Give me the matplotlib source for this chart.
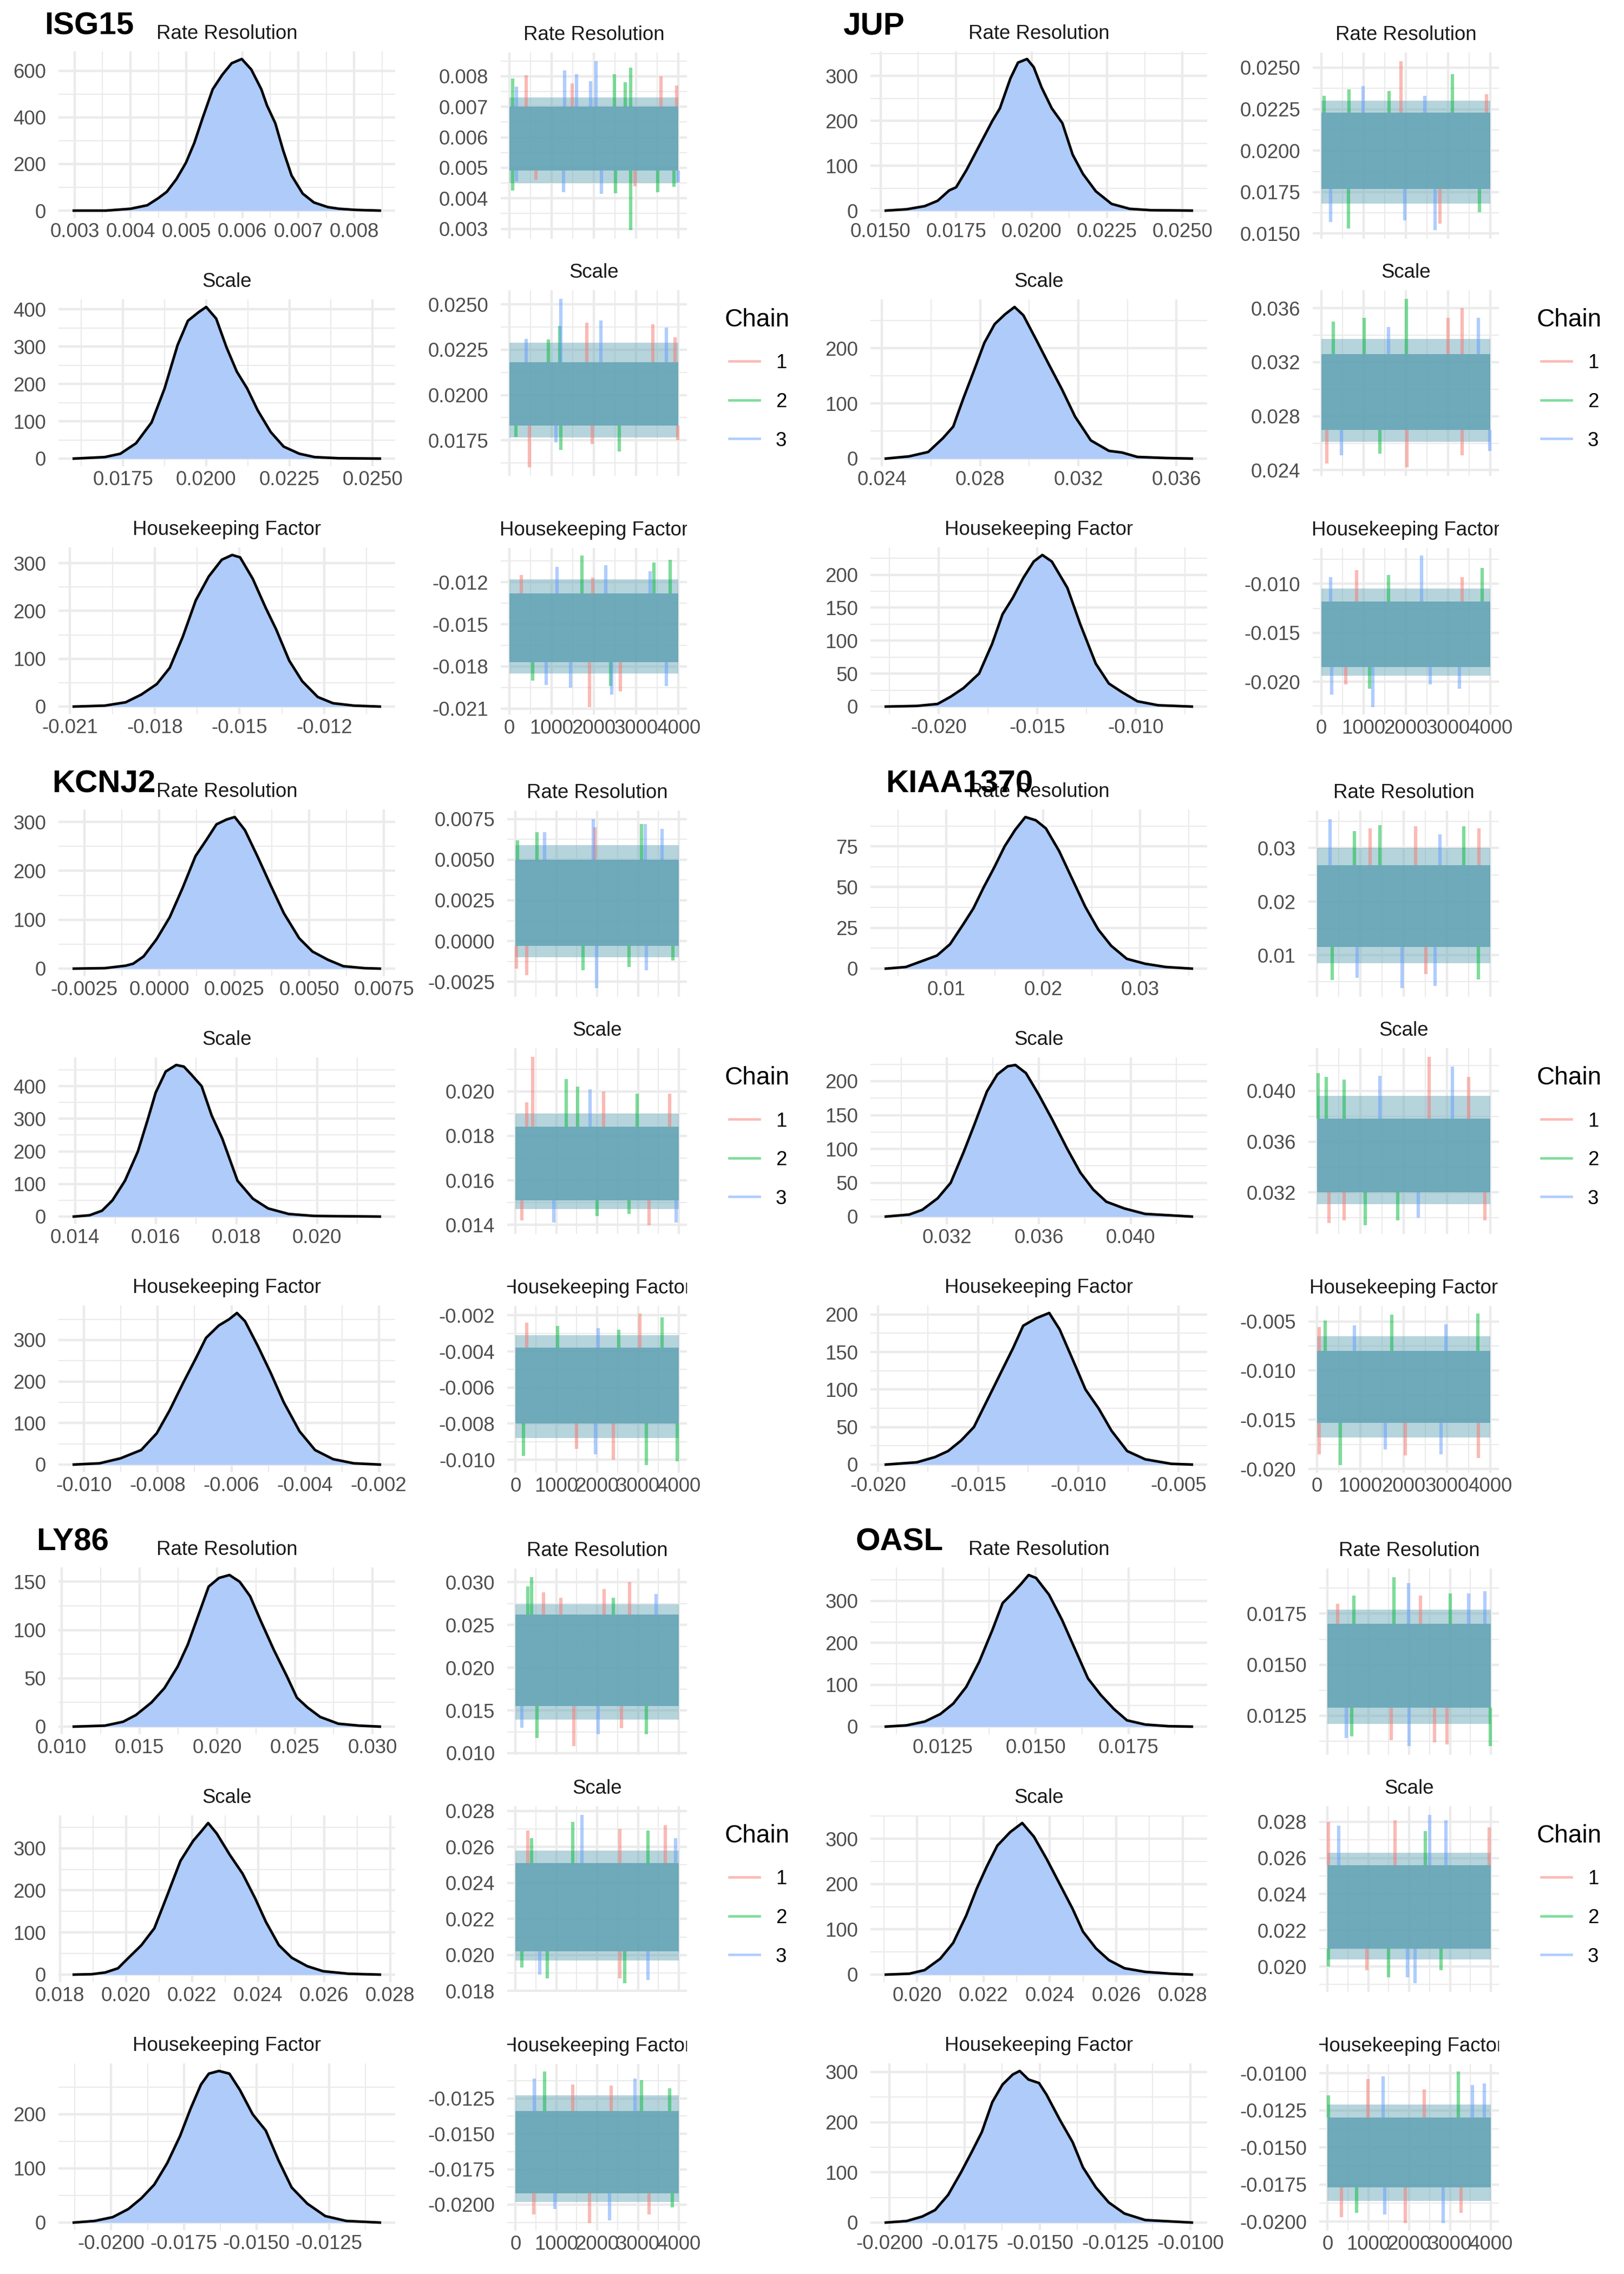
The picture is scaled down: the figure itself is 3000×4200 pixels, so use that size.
import math
import matplotlib
matplotlib.use("Agg")
import matplotlib.pyplot as plt
from matplotlib.colors import to_rgb
from matplotlib.lines import Line2D
from matplotlib.transforms import Bbox, TransformedBbox

plt.rcParams["font.family"] = ["Liberation Sans", "DejaVu Sans"]

genes = ["ISG15", "JUP", "KCNJ2", "KIAA1370", "LY86", "OASL"]
params = ["Rate Resolution", "Scale", "Housekeeping Factor"]
chains = [1, 2, 3]
n_iter = 4000

# ---- posterior densities (value, density) ----
isg15_rate_x = [0.002985, 0.00356, 0.0040, 0.0043, 0.0045, 0.00465, 0.00482, 0.00499, 0.00514, 0.00529, 0.00547, 0.00564, 0.00581,
                0.00599, 0.00616, 0.00634, 0.00644, 0.00659, 0.00673, 0.00688, 0.00708, 0.00728, 0.00753, 0.00773, 0.00803, 0.00846]
isg15_rate_y = [0, 0, 8, 23, 54, 81, 135, 205, 290, 398, 521, 583, 633, 651, 606, 521, 452, 375, 259, 151, 73, 35, 15, 8, 3, 0]
isg15_scale_x = [0.01602, 0.01695, 0.01742, 0.01789, 0.01836, 0.01875, 0.01914, 0.01945, 0.01977, 0.0200, 0.0203, 0.02061, 0.02092,
                 0.02123, 0.02155, 0.02194, 0.02233, 0.0228, 0.02326, 0.02397, 0.02522]
isg15_scale_y = [0, 4, 13, 41, 97, 188, 304, 369, 392, 406, 375, 298, 233, 188, 129, 71, 32, 13, 4, 1, 0]
isg15_hk_x = [-0.02087, -0.01977, -0.01903, -0.01848, -0.01793, -0.01747, -0.01701, -0.01655, -0.01609, -0.01563, -0.01526, -0.01498,
              -0.01453, -0.01407, -0.0137, -0.01324, -0.01278, -0.01223, -0.01169, -0.01095, -0.01003]
isg15_hk_y = [0, 2, 9, 25, 47, 81, 146, 222, 272, 307, 317, 312, 267, 206, 161, 96, 53, 20, 7, 2, 0]

jup_rate_x = [0.01517, 0.01586, 0.01646, 0.01689, 0.01727, 0.0175, 0.01784, 0.01827, 0.0187, 0.01895, 0.0193, 0.01955, 0.01985,
              0.02007, 0.02033, 0.02067, 0.02102, 0.02136, 0.0217, 0.02213, 0.02265, 0.02325, 0.02393, 0.02531]
jup_rate_y = [0, 3, 10, 22, 45, 52, 90, 145, 200, 228, 295, 330, 338, 320, 275, 228, 195, 125, 82, 43, 15, 4, 1, 0]
jup_scale_x = [0.02415, 0.0251, 0.02588, 0.02648, 0.0269, 0.02732, 0.02775, 0.02817, 0.02859, 0.02902, 0.0294, 0.02976, 0.03029,
               0.03081, 0.03134, 0.03187, 0.03251, 0.03325, 0.03378, 0.03441, 0.03558, 0.03663]
jup_scale_y = [0, 4, 12, 37, 58, 110, 160, 210, 244, 262, 275, 260, 215, 170, 125, 76, 33, 14, 11, 3, 1, 0]
jup_hk_x = [-0.02268, -0.0211, -0.02005, -0.01939, -0.01874, -0.01795, -0.01729, -0.01676, -0.01624, -0.01571, -0.01518, -0.01474,
            -0.01426, -0.01347, -0.01282, -0.01203, -0.01137, -0.01071, -0.00992, -0.00887, -0.00716]
jup_hk_y = [0, 1, 4, 15, 28, 50, 95, 140, 165, 195, 220, 230, 220, 180, 125, 65, 35, 22, 8, 2, 0]

kcnj2_rate_x = [-0.00285, -0.00181, -0.00112, -0.00087, -0.00052, -0.00009, 0.00035, 0.00078, 0.00121, 0.00156, 0.00191, 0.00225,
                0.00252, 0.00286, 0.00329, 0.00372, 0.00416, 0.00467, 0.00511, 0.00563, 0.00614, 0.00684, 0.00736]
kcnj2_rate_y = [0, 1, 6, 10, 25, 60, 105, 165, 230, 262, 295, 305, 310, 283, 228, 170, 113, 62, 35, 18, 5, 1, 0]
kcnj2_scale_x = [0.01397, 0.01436, 0.01467, 0.01493, 0.01524, 0.01556, 0.01581, 0.016, 0.01625, 0.01651, 0.0167, 0.01689, 0.01714,
                 0.01739, 0.01765, 0.01803, 0.01841, 0.01879, 0.0193, 0.01993, 0.02156]
kcnj2_scale_y = [0, 4, 18, 50, 110, 200, 300, 380, 445, 465, 460, 435, 400, 310, 240, 110, 55, 25, 8, 2, 0]
kcnj2_hk_x = [-0.01028, -0.00958, -0.00901, -0.00845, -0.00803, -0.00768, -0.00732, -0.00697, -0.00669, -0.00634, -0.00606, -0.00585,
              -0.00563, -0.00528, -0.00493, -0.00458, -0.00415, -0.00373, -0.00324, -0.00268, -0.00197]
kcnj2_hk_y = [0, 3, 15, 35, 75, 130, 195, 255, 305, 335, 350, 365, 345, 285, 220, 150, 80, 35, 13, 3, 0]

kiaa_rate_x = [0.00375, 0.00582, 0.0072, 0.00903, 0.01038, 0.01172, 0.01279, 0.01386, 0.01493, 0.01601, 0.01708, 0.01815, 0.01922,
               0.02027, 0.02164, 0.02298, 0.02432, 0.02566, 0.027, 0.02861, 0.03049, 0.03263, 0.03532]
kiaa_rate_y = [0, 1, 4, 8, 15, 27, 37, 50, 62, 75, 85, 93, 91, 86, 72, 55, 38, 24, 14, 6, 3, 1, 0]
kiaa_scale_x = [0.02933, 0.03035, 0.03092, 0.03159, 0.03216, 0.03272, 0.03318, 0.03374, 0.03419, 0.03464, 0.03498, 0.03544, 0.036,
                0.03656, 0.03724, 0.03781, 0.03837, 0.03894, 0.03973, 0.04063, 0.04267]
kiaa_scale_y = [0, 3, 10, 27, 50, 95, 135, 185, 210, 222, 224, 212, 180, 145, 100, 65, 40, 22, 12, 4, 0]
kiaa_hk_x = [-0.01961, -0.01806, -0.01715, -0.0165, -0.01585, -0.01521, -0.01456, -0.01391, -0.01326, -0.01275, -0.0121, -0.01145,
             -0.01093, -0.01028, -0.00964, -0.00899, -0.00834, -0.00756, -0.00666, -0.00536, -0.00433]
kiaa_hk_y = [0, 3, 10, 18, 32, 50, 85, 120, 155, 185, 195, 202, 180, 140, 100, 75, 45, 18, 7, 1, 0]

ly86_rate_x = [0.01077, 0.01277, 0.01394, 0.01477, 0.01577, 0.01661, 0.01745, 0.01811, 0.01878, 0.01945, 0.02012, 0.02079, 0.02145,
               0.02212, 0.02279, 0.02363, 0.02446, 0.02513, 0.0258, 0.02663, 0.0278, 0.02914, 0.03047]
ly86_rate_y = [0, 1, 5, 12, 25, 40, 62, 85, 115, 145, 154, 157, 150, 135, 110, 80, 53, 30, 20, 10, 3, 1, 0]
ly86_scale_x = [0.01842, 0.01897, 0.01937, 0.01976, 0.02008, 0.02047, 0.02086, 0.02126, 0.02165, 0.02204, 0.02228, 0.02249, 0.02275,
                0.02314, 0.02353, 0.02392, 0.02424, 0.02463, 0.02502, 0.02549, 0.02597, 0.02675, 0.02769]
ly86_scale_y = [0, 1, 5, 15, 40, 70, 110, 190, 270, 318, 340, 360, 335, 285, 240, 180, 125, 70, 40, 20, 8, 2, 0]
ly86_hk_x = [-0.02129, -0.02057, -0.01995, -0.01941, -0.01896, -0.01852, -0.01807, -0.01763, -0.01727, -0.01691, -0.01664, -0.01629,
             -0.01593, -0.01557, -0.01513, -0.01468, -0.01424, -0.01379, -0.01325, -0.01263, -0.01191, -0.01075]
ly86_hk_y = [0, 3, 10, 25, 45, 70, 110, 160, 210, 255, 275, 280, 275, 245, 200, 170, 115, 65, 35, 12, 3, 0]

oasl_rate_x = [0.01096, 0.01152, 0.01201, 0.01243, 0.01278, 0.01313, 0.01348, 0.01383, 0.01411, 0.01439, 0.0146, 0.01481, 0.01501,
               0.01536, 0.01571, 0.01606, 0.01641, 0.01676, 0.01711, 0.01746, 0.01795, 0.01858, 0.01921]
oasl_rate_y = [0, 3, 12, 30, 55, 95, 155, 230, 295, 320, 340, 362, 355, 315, 255, 185, 115, 75, 42, 15, 5, 1, 0]
oasl_scale_x = [0.01906, 0.01977, 0.02023, 0.0207, 0.02109, 0.02148, 0.0218, 0.02211, 0.02242, 0.02281, 0.02317, 0.02352, 0.02391,
                0.0243, 0.02469, 0.025, 0.02539, 0.02578, 0.02625, 0.02688, 0.02766, 0.02828]
oasl_scale_y = [0, 2, 10, 35, 70, 130, 190, 240, 285, 315, 335, 305, 255, 200, 145, 95, 58, 32, 14, 6, 2, 0]
oasl_hk_x = [-0.02012, -0.01943, -0.01891, -0.01848, -0.01805, -0.01762, -0.01727, -0.01693, -0.01658, -0.01624, -0.0159, -0.01567,
             -0.01538, -0.01503, -0.01478, -0.01434, -0.01391, -0.01357, -0.01314, -0.01271, -0.01219, -0.0115, -0.00995]
oasl_hk_y = [0, 3, 12, 25, 55, 100, 140, 180, 240, 275, 295, 302, 285, 278, 255, 205, 160, 110, 70, 40, 18, 5, 0]

# ---- trace plots ----
# core: solid band where all chains overlap; fringe: how far the dense jitter reaches;
# spikes: the isolated excursions that stand out (iteration, value, chain)
isg15_rate_core, isg15_rate_fringe = (0.0049, 0.0070), (0.0045, 0.0073)
isg15_rate_spikes = [(85, 0.00792, 2), (396, 0.00803, 1), (170, 0.00766, 3), (1313, 0.0082, 3), (1595, 0.00807, 3), (2054, 0.0085, 3),
                     (2489, 0.00806, 2), (2868, 0.00828, 2), (3581, 0.00799, 1), (3960, 0.0077, 1), (1482, 0.00777, 1),
                     (1924, 0.00784, 3), (2744, 0.0078, 2),
                     (85, 0.00426, 2), (1284, 0.0042, 3), (170, 0.00455, 3), (2178, 0.00414, 3), (2517, 0.00417, 2),
                     (2868, 0.00295, 2), (2970, 0.0044, 1), (3508, 0.0042, 2), (3893, 0.00437, 2), (4000, 0.00452, 3),
                     (634, 0.0046, 1)]
isg15_scale_core, isg15_scale_fringe = (0.0183, 0.0218), (0.01765, 0.0229)
isg15_scale_spikes = [(1220, 0.02532, 3), (1200, 0.02382, 2), (1830, 0.0240, 1), (2160, 0.0241, 3), (3390, 0.0239, 1),
                      (3720, 0.02371, 3), (3920, 0.0232, 1), (930, 0.02307, 2), (400, 0.0231, 3),
                      (480, 0.0160, 1), (1220, 0.01696, 2), (2600, 0.01687, 2), (1960, 0.0173, 1), (1100, 0.0174, 3),
                      (3980, 0.0175, 1), (160, 0.0177, 2)]
isg15_hk_core, isg15_hk_fringe = (-0.0177, -0.0128), (-0.0185, -0.0118)
isg15_hk_spikes = [(1720, -0.0101, 2), (3420, -0.0106, 2), (3800, -0.0104, 2), (1130, -0.0109, 3), (2280, -0.0108, 3),
                   (1980, -0.0117, 1), (3330, -0.0112, 3), (280, -0.0115, 1),
                   (1900, -0.0209, 1), (2420, -0.0200, 3), (2630, -0.0198, 1), (2400, -0.0194, 2), (870, -0.0193, 3),
                   (1450, -0.0195, 3), (3720, -0.0194, 3), (550, -0.0190, 2)]

jup_rate_core, jup_rate_fringe = (0.0177, 0.0223), (0.0168, 0.0230)
jup_rate_spikes = [(1890, 0.0254, 1), (3100, 0.0246, 2), (660, 0.0237, 2), (990, 0.0239, 3), (1600, 0.0236, 2), (2450, 0.0233, 3),
                   (3900, 0.0234, 1), (70, 0.0233, 2),
                   (220, 0.0157, 3), (640, 0.0153, 2), (2690, 0.0152, 3), (2800, 0.0156, 1), (1980, 0.0158, 3), (3740, 0.0163, 2)]
jup_scale_core, jup_scale_fringe = (0.0270, 0.0326), (0.0261, 0.0337)
jup_scale_spikes = [(2010, 0.0367, 2), (3330, 0.0360, 1), (3720, 0.0353, 3), (1010, 0.0353, 2), (280, 0.0350, 2), (3000, 0.0353, 1),
                    (1590, 0.0346, 3),
                    (130, 0.0245, 1), (2020, 0.0242, 1), (480, 0.0251, 3), (1390, 0.0252, 2), (3330, 0.0251, 1), (3980, 0.0254, 3)]
jup_hk_core, jup_hk_fringe = (-0.0185, -0.0118), (-0.0194, -0.0105)
jup_hk_spikes = [(2370, -0.0071, 3), (3800, -0.0084, 2), (840, -0.0086, 1), (220, -0.0093, 3), (1590, -0.0091, 2), (3330, -0.0093, 1),
                 (1220, -0.0226, 3), (250, -0.0213, 3), (1140, -0.0207, 2), (2580, -0.0203, 3), (3270, -0.0207, 3), (580, -0.0203, 1)]

kcnj2_rate_core, kcnj2_rate_fringe = (-0.0003, 0.0050), (-0.0010, 0.0059)
kcnj2_rate_spikes = [(1900, 0.0075, 3), (3180, 0.0072, 3), (3090, 0.0072, 2), (3590, 0.0069, 3), (710, 0.0067, 3), (1940, 0.0070, 1),
                     (525, 0.0067, 2), (50, 0.0062, 2),
                     (1990, -0.0029, 3), (25, -0.0017, 1), (275, -0.0021, 1), (1650, -0.0018, 2), (3210, -0.0018, 3),
                     (2775, -0.0016, 2), (3860, -0.0012, 2)]
kcnj2_scale_core, kcnj2_scale_fringe = (0.0151, 0.0184), (0.0147, 0.0190)
kcnj2_scale_spikes = [(425, 0.02156, 1), (1240, 0.02056, 2), (1525, 0.0202, 2), (1825, 0.0201, 3), (2160, 0.0200, 1),
                      (2975, 0.0199, 2), (3775, 0.0199, 1), (275, 0.0195, 1),
                      (3275, 0.01397, 1), (940, 0.0141, 3), (150, 0.0142, 1), (3940, 0.0141, 3), (2000, 0.0144, 2), (2775, 0.0145, 2)]
kcnj2_hk_core, kcnj2_hk_fringe = (-0.0080, -0.0038), (-0.0088, -0.0031)
kcnj2_hk_spikes = [(3050, -0.0019, 1), (3590, -0.0021, 2), (275, -0.0024, 1), (1025, -0.0026, 2), (2025, -0.0027, 3),
                   (2525, -0.0028, 2),
                   (3210, -0.0103, 2), (3960, -0.0101, 2), (190, -0.0098, 2), (2400, -0.0100, 1), (1960, -0.0097, 3),
                   (1500, -0.0094, 1)]

kiaa_rate_core, kiaa_rate_fringe = (0.0115, 0.0268), (0.0085, 0.0300)
kiaa_rate_spikes = [(305, 0.0354, 3), (1455, 0.0343, 2), (2275, 0.0340, 1), (3390, 0.0340, 2), (1220, 0.0336, 1), (3740, 0.0336, 1),
                    (870, 0.0331, 2), (2840, 0.0325, 3),
                    (1960, 0.0038, 3), (350, 0.0054, 2), (3720, 0.0055, 2), (930, 0.0058, 3), (2720, 0.0042, 3), (2510, 0.0065, 1)]
kiaa_scale_core, kiaa_scale_fringe = (0.0320, 0.0378), (0.0311, 0.0396)
kiaa_scale_spikes = [(2590, 0.0427, 1), (3130, 0.0419, 3), (25, 0.0414, 2), (220, 0.0411, 2), (1455, 0.0412, 3), (3500, 0.0411, 1),
                     (630, 0.0409, 2),
                     (1115, 0.0294, 2), (280, 0.0296, 1), (630, 0.0298, 1), (1865, 0.0298, 2), (3870, 0.0298, 1), (2335, 0.0300, 3)]
kiaa_hk_core, kiaa_hk_fringe = (-0.0153, -0.0080), (-0.0168, -0.0065)
kiaa_hk_spikes = [(3710, -0.0042, 2), (1720, -0.0043, 2), (190, -0.0049, 2), (50, -0.0056, 1), (870, -0.0054, 3), (2980, -0.0053, 3),
                  (540, -0.0196, 2), (50, -0.0185, 1), (2040, -0.0186, 1), (2860, -0.0185, 3), (3720, -0.0189, 1),
                  (1570, -0.0180, 3)]

ly86_rate_core, ly86_rate_fringe = (0.0155, 0.0262), (0.0139, 0.0274)
ly86_rate_spikes = [(400, 0.0306, 2), (2800, 0.0300, 1), (2175, 0.0292, 1), (690, 0.0288, 1), (300, 0.0295, 2), (3440, 0.0286, 3),
                    (1110, 0.0282, 1), (2400, 0.0282, 2),
                    (1425, 0.0108, 1), (525, 0.0118, 2), (2025, 0.0122, 3), (3210, 0.0122, 2), (150, 0.0130, 3), (2590, 0.0129, 1)]
ly86_scale_core, ly86_scale_fringe = (0.0202, 0.0251), (0.0197, 0.0258)
ly86_scale_spikes = [(1625, 0.02779, 3), (1400, 0.0274, 2), (300, 0.0269, 1), (2550, 0.0270, 1), (3675, 0.0272, 1),
                     (3250, 0.0269, 2), (400, 0.0265, 2), (3925, 0.0265, 3),
                     (2675, 0.01842, 2), (775, 0.0187, 2), (590, 0.0189, 3), (2560, 0.0187, 1), (3240, 0.0186, 3),
                     (150, 0.0193, 2)]
ly86_hk_core, ly86_hk_fringe = (-0.0192, -0.0134), (-0.0198, -0.0123)
ly86_hk_spikes = [(710, -0.0106, 2), (460, -0.0111, 3), (2925, -0.0111, 3), (3090, -0.0112, 2), (1400, -0.0115, 1),
                  (2340, -0.0116, 1), (3775, -0.0118, 2),
                  (1810, -0.0213, 1), (2300, -0.0211, 3), (440, -0.0207, 1), (3275, -0.0207, 1), (960, -0.0203, 3),
                  (3840, -0.0202, 2)]

oasl_rate_core, oasl_rate_fringe = (0.0129, 0.0170), (0.0121, 0.0177)
oasl_rate_spikes = [(1625, 0.0193, 2), (1990, 0.0190, 3), (3000, 0.0185, 2), (3860, 0.0186, 3), (2275, 0.0184, 1), (3460, 0.0185, 3),
                    (650, 0.0184, 2), (250, 0.0180, 1),
                    (3990, 0.0110, 2), (2000, 0.0110, 3), (2925, 0.0111, 1), (1560, 0.0113, 1), (590, 0.0115, 2),
                    (460, 0.0114, 3), (2625, 0.0112, 1)]
oasl_scale_core, oasl_scale_fringe = (0.0210, 0.0256), (0.0204, 0.0263)
oasl_scale_spikes = [(2500, 0.0284, 3), (25, 0.0280, 1), (2900, 0.0281, 3), (1650, 0.0281, 1), (275, 0.0278, 3), (3960, 0.0277, 1),
                     (2400, 0.0275, 2),
                     (2150, 0.01906, 3), (1500, 0.0194, 2), (25, 0.0200, 2), (1960, 0.0194, 3), (960, 0.0198, 1),
                     (2775, 0.0198, 2)]
oasl_hk_core, oasl_hk_fringe = (-0.0177, -0.0130), (-0.0186, -0.0121)
oasl_hk_spikes = [(3210, -0.00989, 2), (1360, -0.0102, 3), (990, -0.0104, 1), (3840, -0.0107, 3), (25, -0.0115, 2),
                  (3550, -0.0108, 3), (2375, -0.0111, 1),
                  (1900, -0.0201, 1), (2840, -0.0201, 3), (340, -0.0197, 1), (710, -0.0194, 2), (1400, -0.0195, 3),
                  (3275, -0.0194, 1)]

# ---- tick spacing (parameter axis) and density-axis spacing ----
isg15_steps, isg15_dens_steps = [0.001, 0.0025, 0.003], [200, 100, 100]
jup_steps, jup_dens_steps = [0.0025, 0.004, 0.005], [100, 100, 50]
kcnj2_steps, kcnj2_dens_steps = [0.0025, 0.002, 0.002], [100, 100, 100]
kiaa_steps, kiaa_dens_steps = [0.01, 0.004, 0.005], [25, 50, 50]
ly86_steps, ly86_dens_steps = [0.005, 0.002, 0.0025], [50, 100, 100]
oasl_steps, oasl_dens_steps = [0.0025, 0.002, 0.0025], [100, 100, 100]

dens_data = {
    "ISG15": [(isg15_rate_x, isg15_rate_y), (isg15_scale_x, isg15_scale_y), (isg15_hk_x, isg15_hk_y)],
    "JUP": [(jup_rate_x, jup_rate_y), (jup_scale_x, jup_scale_y), (jup_hk_x, jup_hk_y)],
    "KCNJ2": [(kcnj2_rate_x, kcnj2_rate_y), (kcnj2_scale_x, kcnj2_scale_y), (kcnj2_hk_x, kcnj2_hk_y)],
    "KIAA1370": [(kiaa_rate_x, kiaa_rate_y), (kiaa_scale_x, kiaa_scale_y), (kiaa_hk_x, kiaa_hk_y)],
    "LY86": [(ly86_rate_x, ly86_rate_y), (ly86_scale_x, ly86_scale_y), (ly86_hk_x, ly86_hk_y)],
    "OASL": [(oasl_rate_x, oasl_rate_y), (oasl_scale_x, oasl_scale_y), (oasl_hk_x, oasl_hk_y)],
}
trace_data = {
    "ISG15": [(isg15_rate_core, isg15_rate_fringe, isg15_rate_spikes),
              (isg15_scale_core, isg15_scale_fringe, isg15_scale_spikes),
              (isg15_hk_core, isg15_hk_fringe, isg15_hk_spikes)],
    "JUP": [(jup_rate_core, jup_rate_fringe, jup_rate_spikes),
            (jup_scale_core, jup_scale_fringe, jup_scale_spikes),
            (jup_hk_core, jup_hk_fringe, jup_hk_spikes)],
    "KCNJ2": [(kcnj2_rate_core, kcnj2_rate_fringe, kcnj2_rate_spikes),
              (kcnj2_scale_core, kcnj2_scale_fringe, kcnj2_scale_spikes),
              (kcnj2_hk_core, kcnj2_hk_fringe, kcnj2_hk_spikes)],
    "KIAA1370": [(kiaa_rate_core, kiaa_rate_fringe, kiaa_rate_spikes),
                 (kiaa_scale_core, kiaa_scale_fringe, kiaa_scale_spikes),
                 (kiaa_hk_core, kiaa_hk_fringe, kiaa_hk_spikes)],
    "LY86": [(ly86_rate_core, ly86_rate_fringe, ly86_rate_spikes),
             (ly86_scale_core, ly86_scale_fringe, ly86_scale_spikes),
             (ly86_hk_core, ly86_hk_fringe, ly86_hk_spikes)],
    "OASL": [(oasl_rate_core, oasl_rate_fringe, oasl_rate_spikes),
             (oasl_scale_core, oasl_scale_fringe, oasl_scale_spikes),
             (oasl_hk_core, oasl_hk_fringe, oasl_hk_spikes)],
}
step_data = {
    "ISG15": (isg15_steps, isg15_dens_steps), "JUP": (jup_steps, jup_dens_steps),
    "KCNJ2": (kcnj2_steps, kcnj2_dens_steps), "KIAA1370": (kiaa_steps, kiaa_dens_steps),
    "LY86": (ly86_steps, ly86_dens_steps), "OASL": (oasl_steps, oasl_dens_steps),
}

chain_colors = {1: "#F8766D", 2: "#00BA38", 3: "#619CFF"}
GRID = "#EBEBEB"
TICK_COL = "#4D4D4D"
FS = 8.8

# colour the three half-transparent chains give where they pile up
overlap = (1.0, 1.0, 1.0)
for ch in chains:
    overlap = tuple(0.5 * a + 0.5 * b for a, b in zip(to_rgb(chain_colors[ch]), overlap))

W, H = 3000, 4200
CELL_W, CELL_H = 1500, 1400
DENS_X = (108, 730)
DENS_ROWS = [(95, 403), (553, 861), (1011, 1319)]
TRACE_ROWS = [(97, 441), (536, 879), (1012, 1320)]
TRACE_RIGHT = 1269
CHAR_W = {"-": 0.333, ".": 0.278}

fig = plt.figure(figsize=(10, 14), dpi=300)
fig.patch.set_facecolor("white")


def px_axes(x0, y0, x1, y1):
    return fig.add_axes([x0 / W, 1 - y1 / H, (x1 - x0) / W, (y1 - y0) / H])


def breaks(lo, hi, step):
    k0 = math.ceil(lo / step - 1e-6)
    k1 = math.floor(hi / step + 1e-6)
    return [k * step for k in range(k0, k1 + 1)]


def decimals(step):
    for d in range(9):
        if abs(round(step * 10 ** d) - step * 10 ** d) < 1e-6:
            return d
    return 9


def fmt(v, step):
    return f"{v + 0.0:.{decimals(step)}f}"


def set_breaks(ax, axis, lo, hi, step, labels=True):
    major = breaks(lo, hi, step)
    minor = [v + step / 2 for v in breaks(lo - step / 2, hi - step / 2, step)]
    text = [fmt(v, step) for v in major]
    if axis == "x":
        ax.set_xlim(lo, hi)
        ax.set_xticks(major)
        ax.set_xticks(minor, minor=True)
        if labels:
            ax.set_xticklabels(text)
        else:
            ax.tick_params(axis="x", labelbottom=False)
    else:
        ax.set_ylim(lo, hi)
        ax.set_yticks(major)
        ax.set_yticks(minor, minor=True)
        ax.set_yticklabels(text)


def style(ax):
    for s in ax.spines.values():
        s.set_visible(False)
    ax.set_axisbelow(True)
    ax.grid(True, which="major", color=GRID, lw=1.07)
    ax.grid(True, which="minor", color=GRID, lw=0.53)
    ax.tick_params(which="both", length=0, labelsize=FS, labelcolor=TICK_COL)
    ax.tick_params(axis="x", pad=2)
    ax.tick_params(axis="y", pad=5.5)


def label_width(s):
    return sum(CHAR_W.get(c, 0.556) for c in s) * FS * 300 / 72


renderer = fig.canvas.get_renderer()

for gi, gene in enumerate(genes):
    cx = (gi % 2) * CELL_W
    cy = (gi // 2) * CELL_H
    steps, dsteps = step_data[gene]

    # density column
    for r, (param, (xs, ys)) in enumerate(zip(params, dens_data[gene])):
        y0, y1 = DENS_ROWS[r]
        ax = px_axes(cx + DENS_X[0], cy + y0, cx + DENS_X[1], cy + y1)
        style(ax)
        ax.fill_between(xs, ys, 0, color="#AECBFA", lw=0)
        ax.plot(xs, ys, color="black", lw=1.15, solid_joinstyle="round")
        span = max(xs) - min(xs)
        set_breaks(ax, "x", min(xs) - 0.05 * span, max(xs) + 0.05 * span, steps[r])
        top = max(ys)
        set_breaks(ax, "y", -0.05 * top, 1.05 * top, dsteps[r])
        ax.set_title(param, fontsize=FS, color="#1A1A1A", pad=5.5)

    # trace column: the label gutter follows the widest tick label
    limits = []
    widest = 0
    for r, (core, fringe, spikes) in enumerate(trace_data[gene]):
        vals = [v for _, v, _ in spikes] + list(core) + list(fringe)
        lo, hi = min(vals), max(vals)
        span = hi - lo
        lim = (lo - 0.05 * span, hi + 0.05 * span)
        labs = [fmt(v, steps[r]) for v in breaks(lim[0], lim[1], steps[r])]
        widest = max(widest, max(label_width(s) for s in labs))
        limits.append(lim)
    t_left = 790 + widest + 23

    for r, (param, (core, fringe, spikes)) in enumerate(zip(params, trace_data[gene])):
        y0, y1 = TRACE_ROWS[r]
        ax = px_axes(cx + t_left, cy + y0, cx + TRACE_RIGHT, cy + y1)
        style(ax)
        lo, hi = core
        flo, fhi = fringe
        its = [1, n_iter]
        # jitter zone just outside the solid band
        ax.fill_between(its, [hi, hi], [fhi, fhi], color=overlap, alpha=0.5, lw=0)
        ax.fill_between(its, [flo, flo], [lo, lo], color=overlap, alpha=0.5, lw=0)
        for ch in chains:
            col = chain_colors[ch]
            ax.fill_between(its, [lo, lo], [hi, hi], color=col, alpha=0.5, lw=0)
            for it, v, c in spikes:
                if c != ch:
                    continue
                base = hi if v > hi else lo
                ax.vlines(it, base, v, color=col, alpha=0.5, lw=1.5)
        xspan = n_iter - 1
        set_breaks(ax, "x", 1 - 0.05 * xspan, n_iter + 0.05 * xspan, 1000, labels=(r == 2))
        set_breaks(ax, "y", limits[r][0], limits[r][1], steps[r])
        t = ax.set_title(param, fontsize=FS, color="#1A1A1A", pad=5.5)
        t.set_clip_box(TransformedBbox(Bbox([[0, 1], [1, 1.4]]), ax.transAxes))
        t.set_clip_on(True)

    # chain legend
    fig.text((cx + 1339) / W, 1 - (cy + 603) / H, "Chain", fontsize=11, color="black")
    for k, ch in enumerate(chains):
        ly = [667, 739, 810][k]
        fig.add_artist(Line2D([(cx + 1347) / W, (cx + 1403) / W], [1 - (cy + ly) / H] * 2,
                              color=chain_colors[ch], alpha=0.5, lw=1.1))
        fig.text((cx + 1443) / W, 1 - (cy + ly) / H, str(ch), fontsize=FS, color="black",
                 ha="center", va="center_baseline")

    # gene label
    lab = fig.text(0, 0, gene, fontsize=14, fontweight="bold", color="black")
    w = lab.get_window_extent(renderer).width
    lab.set_position(((cx + 0.5 * w) / W, 1 - (cy + 63) / H))

fig.savefig("out.png", dpi=300)
